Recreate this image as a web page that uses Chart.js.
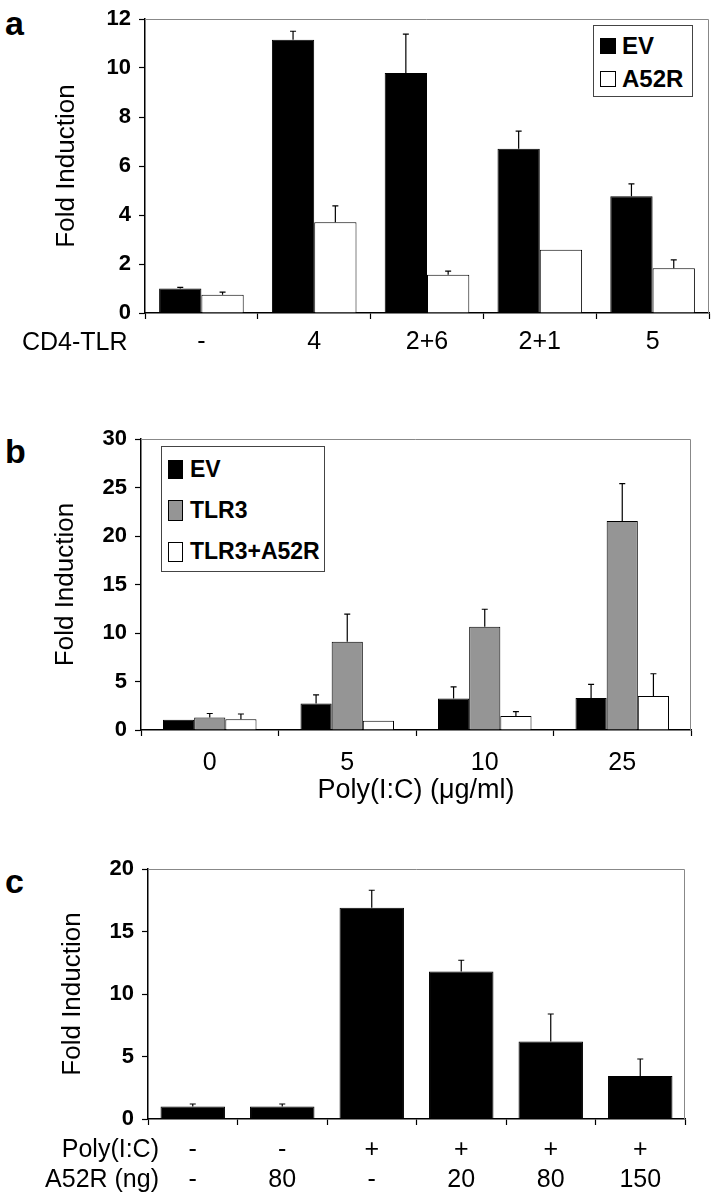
<!DOCTYPE html>
<html>
<head>
<meta charset="utf-8">
<script src="https://cdn.jsdelivr.net/npm/chart.js@4.4.1/dist/chart.umd.min.js"></script>
<style>
  body { margin: 0; background: #fff; font-family: "Liberation Sans", Arial, sans-serif; color: #000; }
  #page { position: relative; width: 711px; height: 1199px; overflow: hidden; }
  canvas { position: absolute; left: 0; }
  .txt { position: absolute; white-space: nowrap; line-height: 1; }
  .panel { font-weight: bold; font-size: 34px; }
  .legend { position: absolute; border: 1px solid #444; background: #fff; }
  .legend .item { position: absolute; font-weight: bold; line-height: 1; white-space: nowrap; }
  .legend .sw { position: absolute; border: 1px solid #000; box-sizing: border-box; }
</style>
</head>
<body>
<div id="page">
  <div class="txt panel" style="left:5px; top:6px;">a</div>
  <div class="txt panel" style="left:5px; top:434px;">b</div>
  <div class="txt panel" style="left:5px; top:864px;">c</div>

  <canvas id="chartA" width="711" height="370" style="top:0px"></canvas>
  <canvas id="chartB" width="711" height="400" style="top:420px"></canvas>
  <canvas id="chartC" width="711" height="349" style="top:850px"></canvas>

  <div class="txt" style="left:22px; top:329px; font-size:25px;">CD4-TLR</div>
  <div class="txt" style="right:552px; top:1136px; font-size:25px;">Poly(I:C)</div>
  <div class="txt" style="right:552px; top:1166px; font-size:25px;">A52R (ng)</div>

  <div id="legendA" class="legend" style="left:593px; top:25px; width:98px; height:70px;"></div>
  <div id="legendB" class="legend" style="left:161px; top:446px; width:162px; height:124px;"></div>
</div>

<script>
// ---- panel a: CD4-TLR constructs
const catsA = ['-', '4', '2+6', '2+1', '5'];
const evA = [1.0, 11.15, 9.8, 6.7, 4.77];
const evAErr = [0.05, 0.35, 1.58, 0.72, 0.5];
const a52rA = [0.75, 3.7, 1.56, 2.58, 1.83];
const a52rAErr = [0.1, 0.67, 0.15, 0, 0.34];

// ---- panel b: Poly(I:C) dose
const catsB = ['0', '5', '10', '25'];
const evB = [1.05, 2.73, 3.24, 3.3];
const evBErr = [0, 0.9, 1.2, 1.4];
const tlr3B = [1.3, 9.1, 10.65, 21.55];
const tlr3BErr = [0.4, 2.85, 1.8, 3.85];
const tlr3a52rB = [1.1, 0.95, 1.45, 3.5];
const tlr3a52rBErr = [0.55, 0, 0.45, 2.3];

// ---- panel c: A52R dose
const polyIC = ['-', '-', '+', '+', '+', '+'];
const a52rNg = ['-', '80', '-', '20', '80', '150'];
const valsC = [1.0, 1.0, 16.9, 11.8, 6.2, 3.45];
const valsCErr = [0.2, 0.2, 1.4, 0.9, 2.2, 1.35];

const FONT = '"Liberation Sans", Arial, sans-serif';

// upward error bars, drawn from the bar's own scale
const errorBars = {
  id: 'errorBars',
  afterDatasetsDraw(chart) {
    const ctx = chart.ctx;
    const y = chart.scales.y;
    chart.data.datasets.forEach((ds, i) => {
      if (!ds.errors) return;
      chart.getDatasetMeta(i).data.forEach((bar, j) => {
        const e = ds.errors[j];
        if (!e) return;
        const top = y.getPixelForValue(ds.data[j] + e);
        ctx.save();
        ctx.strokeStyle = '#000';
        ctx.lineWidth = 1.2;
        ctx.beginPath();
        ctx.moveTo(bar.x, bar.y);
        ctx.lineTo(bar.x, top);
        ctx.moveTo(bar.x - 3, top);
        ctx.lineTo(bar.x + 3, top);
        ctx.stroke();
        ctx.restore();
      });
    });
  }
};

// grey top/right edge of the plot box
const frame = {
  id: 'frame',
  beforeDatasetsDraw(chart) {
    const a = chart.chartArea, ctx = chart.ctx;
    ctx.save();
    ctx.strokeStyle = '#888';
    ctx.lineWidth = 1;
    ctx.beginPath();
    ctx.moveTo(a.left, a.top + 0.5);
    ctx.lineTo(a.right - 0.5, a.top + 0.5);
    ctx.lineTo(a.right - 0.5, a.bottom);
    ctx.stroke();
    ctx.restore();
  }
};

function makeChart(id, labels, datasets, o) {
  return new Chart(document.getElementById(id), {
    type: 'bar',
    data: { labels: labels, datasets: datasets },
    plugins: [frame, errorBars],
    options: {
      responsive: false,
      animation: false,
      layout: { padding: o.padding },
      datasets: { bar: { categoryPercentage: o.catPct, barPercentage: 1 } },
      plugins: { legend: { display: false }, tooltip: { enabled: false } },
      scales: {
        x: {
          grid: { offset: true, drawOnChartArea: false, tickLength: 6, tickColor: '#000', tickWidth: 1.2 },
          border: { color: '#000', width: 1.5 },
          ticks: { color: '#000', padding: o.xPad, font: { family: FONT, size: o.xSize || 25, lineHeight: 1.2 } },
          title: o.xTitle ? { display: true, text: o.xTitle, color: '#000',
                              font: { family: FONT, size: 27 }, padding: { top: 0, bottom: o.xTitlePad } } : { display: false },
          afterFit(s) { s.height = o.xHeight; }
        },
        y: {
          min: 0, max: o.max,
          ticks: { stepSize: o.step, color: '#000', padding: 8,
                   font: { family: FONT, size: 22, weight: 'bold', lineHeight: 1 } },
          grid: { drawOnChartArea: false, tickLength: 6, tickColor: '#000', tickWidth: 1.2 },
          border: { color: '#000', width: 1.5 },
          title: { display: true, text: 'Fold Induction', color: '#000',
                   font: { family: FONT, size: 26 }, padding: { top: o.yTitlePad, bottom: 0 } },
          afterFit(s) { s.width = o.yWidth; }
        }
      }
    }
  });
}

function bar(label, data, errors, fill) {
  return { label: label, data: data, errors: errors, backgroundColor: fill,
           borderColor: '#000', borderWidth: 1 };
}

const dsA = [bar('EV', evA, evAErr, '#000'), bar('A52R', a52rA, a52rAErr, '#fff')];
makeChart('chartA', catsA, dsA, {
  padding: { top: 10, right: 2, left: 0, bottom: 0 },
  catPct: 0.75, max: 12, step: 2, yWidth: 145, yTitlePad: 51,
  xHeight: 57, xPad: 8
});

const dsB = [bar('EV', evB, evBErr, '#000'), bar('TLR3', tlr3B, tlr3BErr, '#959595'),
             bar('TLR3+A52R', tlr3a52rB, tlr3a52rBErr, '#fff')];
makeChart('chartB', catsB, dsB, {
  padding: { top: 17, right: 20, left: 0, bottom: 0 },
  catPct: 0.68, max: 30, step: 5, yWidth: 141, yTitlePad: 50,
  xHeight: 90, xPad: 12, xSize: 25, xTitle: 'Poly(I:C) (\u03bcg/ml)', xTitlePad: 13
});

const labelsC = polyIC.map((p, i) => [p, a52rNg[i]]);
makeChart('chartC', labelsC, [bar('Poly(I:C)', valsC, valsCErr, '#000')], {
  padding: { top: 15, right: 26, left: 0, bottom: 0 },
  catPct: 0.72, max: 20, step: 5, yWidth: 148, yTitlePad: 57,
  xHeight: 80, xPad: 10
});

// legends built from the dataset labels and fills
function buildLegend(el, datasets, rows, size) {
  datasets.forEach((ds, i) => {
    const r = rows[i];
    const sw = document.createElement('div');
    sw.className = 'sw';
    sw.style.cssText = 'left:' + r.sx + 'px; top:' + r.sy + 'px; width:' + r.sw + 'px; height:' + r.sh + 'px; background:' + ds.backgroundColor;
    const t = document.createElement('div');
    t.className = 'item';
    t.style.cssText = 'left:' + r.tx + 'px; top:' + r.ty + 'px; font-size:' + size + 'px;';
    t.textContent = ds.label;
    el.appendChild(sw);
    el.appendChild(t);
  });
}
buildLegend(document.getElementById('legendA'), dsA, [
  { sx: 6, sy: 12, sw: 16, sh: 16, tx: 28, ty: 8 },
  { sx: 6, sy: 45, sw: 16, sh: 16, tx: 28, ty: 41 }
], 24);
buildLegend(document.getElementById('legendB'), dsB, [
  { sx: 6, sy: 13, sw: 15, sh: 19, tx: 28, ty: 11 },
  { sx: 6, sy: 53, sw: 15, sh: 21, tx: 28, ty: 52 },
  { sx: 6, sy: 95, sw: 15, sh: 20, tx: 28, ty: 93 }
], 23);
</script>
</body>
</html>
